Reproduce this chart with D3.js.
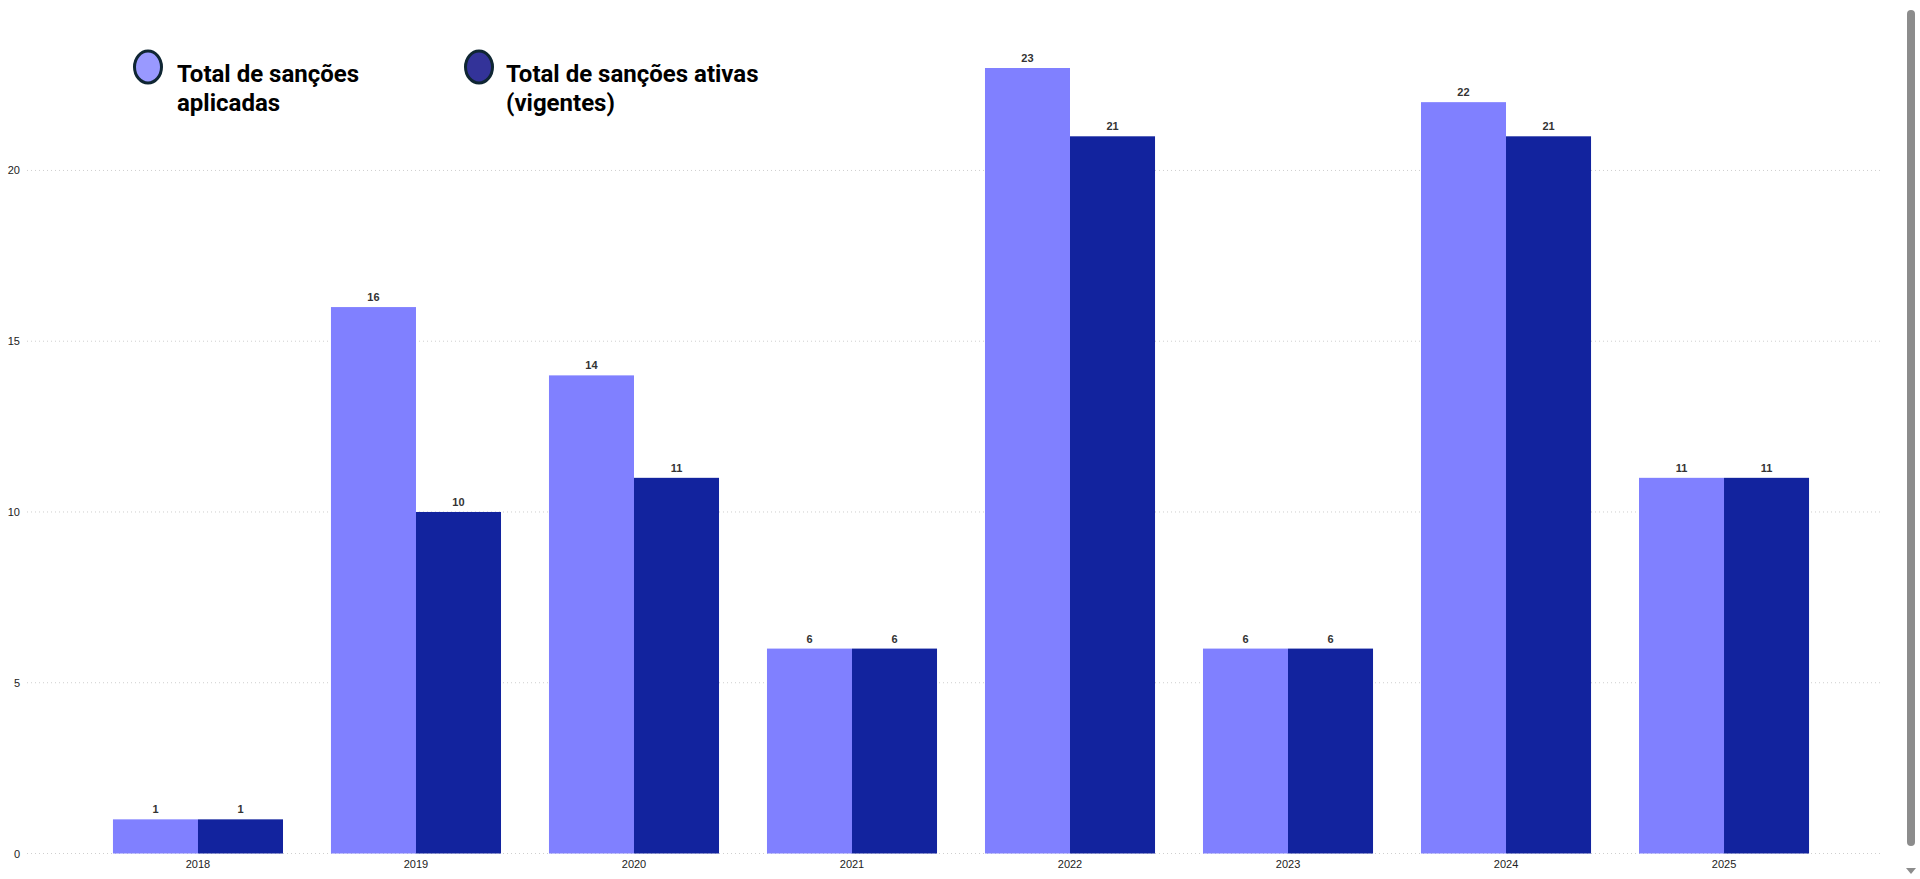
<!DOCTYPE html>
<meta charset="utf-8">
<script src="https://d3js.org/d3.v7.min.js"></script>
<style>
  body { margin: 0; background: #fff; overflow: hidden; }
</style>
<div id="chart"></div>
<script>

// data
var years = ["2018", "2019", "2020", "2021", "2022", "2023", "2024", "2025"]
var aplicadas = [1, 16, 14, 6, 23, 6, 22, 11]
var ativas = [1, 10, 11, 6, 21, 6, 21, 11]
var yTicks = [0, 5, 10, 15, 20]
var seriesNames = ["Total de sanções aplicadas", "Total de sanções ativas (vigentes)"]

var width = 1920, height = 879

var svg = d3.select("#chart").append("svg")
  .attr("width", width)
  .attr("height", height)

var x = d3.scaleBand()
  .domain(years)
  .range([65, 1857])
  .paddingInner(0.22)
  .paddingOuter(0.22)

var xSub = d3.scaleBand()
  .domain(["aplicadas", "ativas"])
  .range([0, x.bandwidth()])

var y = d3.scaleLinear()
  .domain([0, 23])
  .range([853.5, 68])

var colors = { aplicadas: "#8080ff", ativas: "#12239e" }

// gridlines
svg.append("g")
  .selectAll("line")
  .data(yTicks)
  .enter()
  .append("line")
    .attr("x1", 27)
    .attr("x2", 1880)
    .attr("y1", function(d){ return y(d) })
    .attr("y2", function(d){ return y(d) })
    .attr("stroke", "#cfcfcf")
    .attr("stroke-width", 1)
    .attr("stroke-dasharray", "1,3")

// y axis labels
var yAxis = svg.append("g")
  .attr("transform", "translate(20,0)")
  .call(d3.axisLeft(y).tickValues(yTicks).tickSize(0).tickPadding(0))
yAxis.select(".domain").remove()
yAxis.selectAll("text")
  .style("font-family", "'Liberation Sans', Arial, sans-serif")
  .style("font-size", "11px")
  .style("fill", "#222")

// x axis labels
var xAxis = svg.append("g")
  .attr("transform", "translate(0,856)")
  .call(d3.axisBottom(x).tickSize(0).tickPadding(4))
xAxis.select(".domain").remove()
xAxis.selectAll("text")
  .style("font-family", "'Liberation Sans', Arial, sans-serif")
  .style("font-size", "11px")
  .style("fill", "#222")

// bars
var rows = years.map(function(yr, i){
  return { year: yr, values: [
    { key: "aplicadas", v: aplicadas[i] },
    { key: "ativas", v: ativas[i] }
  ]}
})

var groups = svg.selectAll(".grp")
  .data(rows)
  .enter()
  .append("g")
    .attr("class", "grp")
    .attr("transform", function(d){ return "translate(" + x(d.year) + ",0)" })

groups.selectAll("rect")
  .data(function(d){ return d.values })
  .enter()
  .append("rect")
    .attr("x", function(d){ return xSub(d.key) })
    .attr("width", xSub.bandwidth())
    .attr("y", function(d){ return y(d.v) })
    .attr("height", function(d){ return y(0) - y(d.v) })
    .attr("fill", function(d){ return colors[d.key] })

groups.selectAll("text")
  .data(function(d){ return d.values })
  .enter()
  .append("text")
    .attr("x", function(d){ return xSub(d.key) + xSub.bandwidth() / 2 })
    .attr("y", function(d){ return y(d.v) - 6 })
    .attr("text-anchor", "middle")
    .style("font-family", "'Liberation Sans', Arial, sans-serif")
    .style("font-size", "11px")
    .style("font-weight", "bold")
    .style("fill", "#333")
    .text(function(d){ return d.v })

// legend
var legend = [
  { cx: 148, tx: 177, fill: "#9999ff", lines: ["Total de sanções", "aplicadas"] },
  { cx: 479, tx: 506, fill: "#333399", lines: ["Total de sanções ativas", "(vigentes)"] }
]
var lg = svg.selectAll(".lg")
  .data(legend)
  .enter()
  .append("g")
    .attr("class", "lg")
lg.append("ellipse")
  .attr("cx", function(d){ return d.cx })
  .attr("cy", 67)
  .attr("rx", 13.5)
  .attr("ry", 16)
  .attr("fill", function(d){ return d.fill })
  .attr("stroke", "#0f2633")
  .attr("stroke-width", 3)
lg.append("text")
  .attr("x", function(d){ return d.tx })
  .attr("y", 82)
  .style("font-family", "Roboto, sans-serif")
  .style("font-size", "24px")
  .style("font-weight", "bold")
  .style("fill", "#000")
  .selectAll("tspan")
  .data(function(d){ return d.lines.map(function(l){ return { l: l, x: d.tx } }) })
  .enter()
  .append("tspan")
    .attr("x", function(d){ return d.x })
    .attr("dy", function(d, i){ return i ? 29 : 0 })
    .text(function(d){ return d.l })

// scrollbar look on the right edge
svg.append("rect")
  .attr("x", 1907).attr("y", 10)
  .attr("width", 8).attr("height", 836)
  .attr("rx", 4)
  .attr("fill", "#8c8c8c")
svg.append("path")
  .attr("d", "M1906,868 L1916,868 L1911,874 Z")
  .attr("fill", "#8c8c8c")

</script>
